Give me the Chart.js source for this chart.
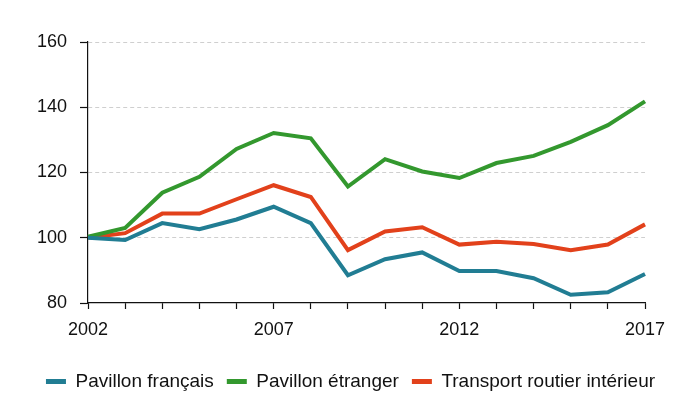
<!DOCTYPE html>
<html>
<head>
<meta charset="utf-8">
<script src="https://cdn.jsdelivr.net/npm/chart.js@4/dist/chart.umd.min.js"></script>
<style>
  html, body { margin: 0; padding: 0; background: #ffffff; }
  #wrap { width: 700px; height: 399px; position: relative; }
</style>
</head>
<body>
<div id="wrap"><canvas id="c"></canvas></div>
<script>
const years = ["2002","2003","2004","2005","2006","2007","2008","2009","2010","2011","2012","2013","2014","2015","2016","2017"];
const pavillonFrancais = [100, 99.3, 104.5, 102.6, 105.6, 109.5, 104.5, 88.5, 93.4, 95.5, 89.8, 89.8, 87.6, 82.5, 83.3, 88.9];
const pavillonEtranger = [100.3, 103, 113.8, 118.7, 127.2, 132.1, 130.5, 115.7, 124.1, 120.3, 118.3, 122.9, 125.1, 129.4, 134.5, 141.8];
const transportRoutier = [100, 101.4, 107.4, 107.4, 111.8, 116.1, 112.5, 96.2, 101.9, 103.2, 97.9, 98.8, 98.1, 96.2, 97.9, 104.1];
const yTicks = [80, 100, 120, 140, 160];
const seriesNames = ["Pavillon français", "Pavillon étranger", "Transport routier intérieur"];
const colors = ["#217d93", "#33982e", "#e2411b"];

const FONT = "'Liberation Sans', Arial, Helvetica, sans-serif";
Chart.defaults.font.family = FONT;
Chart.defaults.color = "#111111";

const mk = (i, data) => ({
  label: seriesNames[i],
  data: data,
  borderColor: colors[i],
  backgroundColor: colors[i],
  borderWidth: 4,
  pointRadius: 0,
  pointHoverRadius: 0,
  tension: 0,
  fill: false
});

const legendShift = {
  id: 'legendShift',
  afterLayout(chart) {
    const lg = chart.legend;
    if (lg) { lg.left += 28; lg.right += 28; lg.top += 2; lg.bottom += 2; }
  }
};

new Chart(document.getElementById('c'), {
  type: 'line',
  data: {
    labels: years,
    datasets: [mk(0, pavillonFrancais), mk(1, pavillonEtranger), mk(2, transportRoutier)]
  },
  plugins: [legendShift],
  options: {
    responsive: true,
    maintainAspectRatio: false,
    animation: false,
    layout: { padding: { left: 0, right: 55, top: 42, bottom: 0 } },
    plugins: {
      tooltip: { enabled: false },
      legend: {
        position: 'bottom',
        labels: {
          boxWidth: 20,
          boxHeight: 5,
          padding: 13,
          color: '#111111',
          font: { size: 19 },
          generateLabels: (chart) => Chart.defaults.plugins.legend.labels.generateLabels(chart).map(l => Object.assign(l, { lineWidth: 0, strokeStyle: 'rgba(0,0,0,0)' }))
        }
      }
    },
    scales: {
      x: {
        type: 'category',
        offset: false,
        grid: { display: true, drawOnChartArea: false, drawTicks: true, tickLength: 6, tickColor: '#111111', tickWidth: 1.2 },
        border: { display: true, color: '#111111', width: 1.2 },
        ticks: {
          autoSkip: false,
          maxRotation: 0,
          padding: 10,
          font: { size: 18 },
          color: '#111111',
          callback: function(val, idx) { return (idx % 5 === 0) ? years[idx] : ''; }
        },
        afterFit: (s) => { s.height = 54; }
      },
      y: {
        min: 80,
        max: 160,
        afterBuildTicks: (s) => { s.ticks = yTicks.map(v => ({ value: v })); },
        grid: {
          drawOnChartArea: true,
          drawTicks: true,
          tickLength: 8,
          tickColor: '#111111',
          tickWidth: 1.2,
          lineWidth: 1,
          color: (ctx) => (ctx.tick && ctx.tick.value === 80) ? 'rgba(0,0,0,0)' : '#cfcfcf'
        },
        border: { display: true, color: '#111111', width: 1.2, dash: [4, 3] },
        ticks: { padding: 13, font: { size: 18 }, color: '#111111' },
        afterFit: (s) => { s.width = 88; }
      }
    }
  }
});
</script>
</body>
</html>
